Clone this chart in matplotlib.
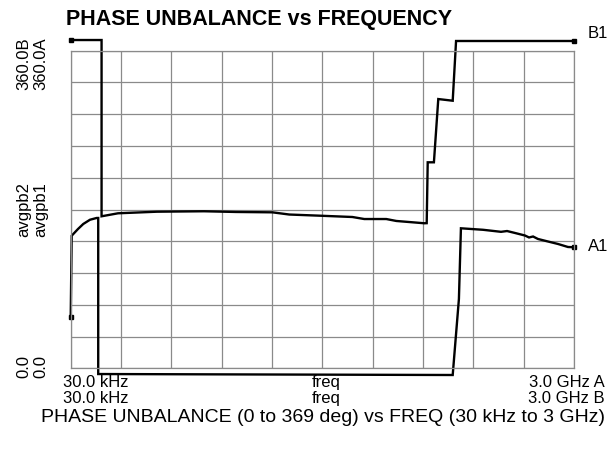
import matplotlib
matplotlib.use("Agg")
import matplotlib.pyplot as plt

# ---- data (frequency in MHz, phase unbalance in degrees) ----
b1_freq = [0.03, 184, 184, 282, 514, 795, 985, 1202, 1303, 1482, 1679, 1750,
           1881, 1941, 2108, 2122, 2128, 2165, 2191, 2277, 2297, 3000]
b1_deg = [372.1, 372.1, 172.3, 175.7, 177.5, 178.0, 177.2, 176.8, 174.3, 173.0,
          171.5, 169.2, 169.2, 167.0, 164.4, 164.5, 233.5, 233.5, 305.2, 303.3,
          371.0, 371.0]

a1_freq = [0.03, 6, 43.5, 75, 115, 155, 164, 164, 2277, 2314, 2326, 2458, 2565,
           2601, 2648, 2708, 2732, 2756, 2785, 2833, 2905, 2964, 3000]
a1_deg = [58.1, 150.3, 157.9, 163.6, 168.4, 170.4, 170.4, -6.5, -7.6, 78.6, 158.7,
          157.0, 154.7, 155.6, 153.4, 150.5, 148.3, 149.4, 146.6, 144.3, 140.9,
          137.5, 137.2]

x_start_labels = ["30.0 kHz", "30.0 kHz"]
x_mid_labels = ["freq", "freq"]
x_end_labels = ["3.0 GHz A", "3.0 GHz B"]
y_top_labels = ["360.0B", "360.0A"]
y_mid_labels = ["avgpb2", "avgpb1"]
y_bot_labels = ["0.0", "0.0"]
trace_labels = ["B1", "A1"]
title = "PHASE UNBALANCE vs FREQUENCY"
caption = "PHASE UNBALANCE (0 to 369 deg) vs FREQ (30 kHz to 3 GHz)"

plt.rcParams['font.family'] = ['Liberation Sans', 'DejaVu Sans']

W, H = 616, 456
fig = plt.figure(figsize=(W / 100, H / 100), dpi=100)
L, R, T, B = 70.7, 574.0, 51.7, 369.3
ax = fig.add_axes([L / W, 1 - B / H, (R - L) / W, (B - T) / H])

ax.set_xlim(0, 3000)
ax.set_ylim(0, 360)
ax.set_xticks([i * 300 for i in range(11)])
ax.set_yticks([i * 36 for i in range(11)])
ax.tick_params(length=0, labelbottom=False, labelleft=False)
ax.grid(True, color='#8a8a8a', linewidth=0.9)
for s in ax.spines.values():
    s.set_color('#8a8a8a')
    s.set_linewidth(0.9)

kw = dict(color='black', linewidth=1.7, clip_on=False, solid_joinstyle='miter')
ax.plot(b1_freq, b1_deg, **kw)
ax.plot(a1_freq, a1_deg, **kw)
mk = dict(marker='s', markersize=3.5, color='black', linestyle='none', clip_on=False)
ax.plot([b1_freq[0], b1_freq[-1]], [b1_deg[0], b1_deg[-1]], **mk)
ax.plot([a1_freq[0], a1_freq[-1]], [a1_deg[0], a1_deg[-1]], **mk)

def px(x, y):
    return x / W, 1 - y / H

fs = 12
fig.text(*px(66, 20), title, fontsize=15.5, fontweight='bold', ha='left', va='center')
fig.text(*px(588, 34), trace_labels[0], fontsize=fs, ha='left', va='center')
fig.text(*px(588, 247), trace_labels[1], fontsize=fs, ha='left', va='center')

for i, xc in enumerate([24, 41]):
    fig.text(*px(xc, 64), y_top_labels[i], fontsize=fs, rotation=90, ha='center', va='center')
    fig.text(*px(xc, 210), y_mid_labels[i], fontsize=fs, rotation=90, ha='center', va='center')
    fig.text(*px(xc, 366), y_bot_labels[i], fontsize=fs, rotation=90, ha='center', va='center')

for i, yc in enumerate([383, 399]):
    fig.text(*px(63, yc), x_start_labels[i], fontsize=fs, ha='left', va='center')
    fig.text(*px(326, yc), x_mid_labels[i], fontsize=fs, ha='center', va='center')
    fig.text(*px(605, yc), x_end_labels[i], fontsize=fs, ha='right', va='center')

fig.text(*px(323, 418), caption, fontsize=14, ha='center', va='center')

fig.savefig('out.png', dpi=100, facecolor='white')
